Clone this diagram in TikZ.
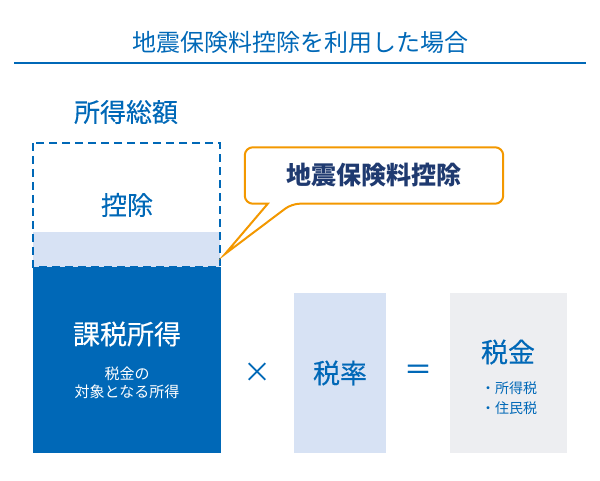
\documentclass[tikz,border=0pt]{standalone}
\usepackage{fontspec}
\setmainfont{Noto Sans CJK JP}
\newfontfamily\medfont{Noto Sans CJK JP}[FakeBold=0.3]
\usepackage{tikz}
\definecolor{taxblue}{HTML}{0068B7}
\definecolor{bandblue}{HTML}{D7E2F4}
\definecolor{taxgray}{HTML}{EDEEF1}
\definecolor{calloutorange}{HTML}{F39800}
\definecolor{calloutnavy}{HTML}{1F3A70}
\tikzset{
	box/.style={anchor=north west, inner sep=0pt},
	bigtext/.style={font=\medfont\fontsize{27}{32}\selectfont},
	subtext/.style={font=\fontsize{15}{18}\selectfont, align=center},
}

\begin{document}
\begin{tikzpicture}[x=1pt,y=-1pt]
	\useasboundingbox (0,0) rectangle (600,481);
	% title and rule
	\node [text=taxblue, font=\fontsize{24}{28}\selectfont] (title) at (300,42) {地震保険料控除を利用した場合};
	\coordinate (ruleL) at (14,63);
	\coordinate (ruleR) at (586,63);
	\draw [taxblue, line width=1.5pt] (ruleL) -- (ruleR);
	% total income
	\node [text=taxblue, font=\medfont\fontsize{26}{30}\selectfont] (total) at (126,112) {所得総額};
	\node [box, fill=bandblue, minimum width=187, minimum height=35] (band) at (33,232) {};
	\draw [taxblue, line width=2pt, dash pattern=on 8pt off 5pt] (33,143) rectangle (220,267);
	\node [text=taxblue, font=\medfont\fontsize{26}{30}\selectfont] (deduct) at (127,205) {控除};
	\node [box, fill=taxblue, minimum width=188, minimum height=186] (income) at (33,267) {};
	\node [bigtext, text=white] (taxable) at (127,334) {課税所得};
	\node [subtext, text=white] (taxablesub) at (127,383) {税金の\\対象となる所得};
	% callout
	\node [font=\fontsize{25}{30}\selectfont\bfseries, text=calloutnavy, minimum width=258, minimum height=56, inner sep=0pt] (callout) at (374,175.5) {地震保険料控除};
	\coordinate (tip) at (225,254);
	\draw [calloutorange, line width=2pt, rounded corners=8pt] ([xshift=23pt]callout.south west) -- (callout.south west) -- (callout.north west) -- (callout.north east) -- (callout.south east) -- ([xshift=47pt]callout.south west) [sharp corners] -- (tip) -- cycle;
	% rate and tax
	\node [font=\fontsize{28}{28}\selectfont, text=taxblue] (times) at (257,373) {×};
	\node [box, fill=bandblue, minimum width=92, minimum height=160] (ratebox) at (294,293) {};
	\node [bigtext, text=taxblue] (rate) at (340,373) {税率};
	\node [font=\medfont\fontsize{28}{28}\selectfont, text=taxblue] (equals) at (418,372) {＝};
	\node [box, fill=taxgray, minimum width=117, minimum height=160] (taxbox) at (450,293) {};
	\node [bigtext, text=taxblue] (tax) at (508,352) {税金};
	\node [subtext, text=taxblue, font=\fontsize{14}{20}\selectfont] (taxsub) at (509,398) {・所得税\\・住民税};
\end{tikzpicture}
\end{document}
